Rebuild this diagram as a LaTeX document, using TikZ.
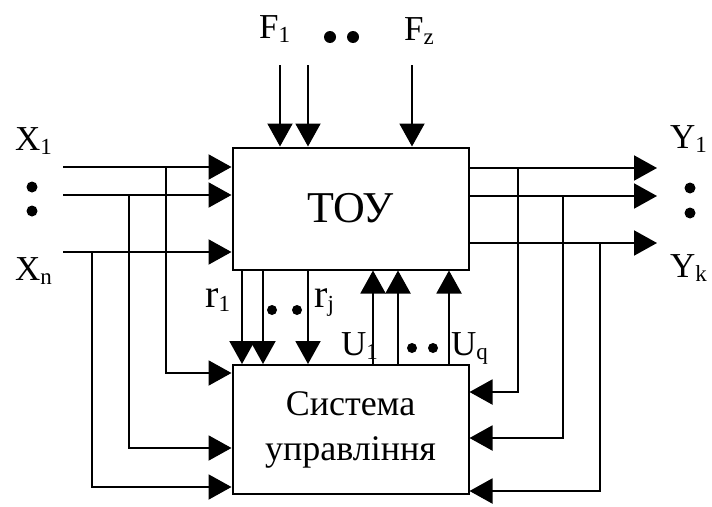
\documentclass[tikz,border=0pt]{standalone}
\usepackage{fontspec}
\setmainfont{Liberation Serif}
\usetikzlibrary{arrows.meta,positioning,calc}

\newcommand{\lowidx}[1]{\raisebox{-4pt}{\fontsize{23}{23}\selectfont #1}}

\begin{document}
\begin{tikzpicture}[
  x=1pt, y=-1pt,
  block/.style={rectangle, draw, line width=2pt, inner sep=0pt},
  sig/.style={line width=2pt, -{Triangle[length=23pt,width=25pt]}},
  lbl/.style={anchor=base west, inner sep=0pt, font=\fontsize{35}{35}\selectfont},
  blob/.style={circle, fill, inner sep=0pt, minimum size=#1},
  blob/.default=11pt
]
  \useasboundingbox (0,0) rectangle (712,506);

  % blocks
  \node[block, minimum width=236pt, minimum height=122pt,
        font=\fontsize{44}{44}\selectfont] (tou) at (350.5,208.5) {ТОУ};
  \node[block, minimum width=236pt, minimum height=129pt, align=center,
        font=\fontsize{36}{45}\selectfont] (ctrl) at (350.5,429.5) {Система\\управління};

  % inputs X
  \coordinate (x1) at (63,167);
  \coordinate (x2) at (63,195);
  \coordinate (xn) at (63,252);
  \draw[sig] (x1) -- (x1 -| tou.west);
  \draw[sig] (x2) -- (x2 -| tou.west);
  \draw[sig] (xn) -- (xn -| tou.west);
  \draw[sig] (x1 -| 166,0) |- (ctrl.west |- 0,373);
  \draw[sig] (x2 -| 129,0) |- (ctrl.west |- 0,448);
  \draw[sig] (xn -| 92,0) |- (ctrl.west |- 0,487);

  % outputs Y
  \coordinate (y1) at (657,168);
  \coordinate (y2) at (657,196);
  \coordinate (yk) at (657,243);
  \draw[sig] (tou.east |- y1) -- (y1);
  \draw[sig] (tou.east |- y2) -- (y2);
  \draw[sig] (tou.east |- yk) -- (yk);
  \draw[sig] (y1 -| 518,0) |- (ctrl.east |- 0,392);
  \draw[sig] (y2 -| 563,0) |- (ctrl.east |- 0,438);
  \draw[sig] (yk -| 600,0) |- (ctrl.east |- 0,491);

  % disturbances F
  \coordinate (f1) at (280,65);
  \coordinate (f2) at (308,65);
  \coordinate (fz) at (412,65);
  \draw[sig] (f1) -- (f1 |- tou.north);
  \draw[sig] (f2) -- (f2 |- tou.north);
  \draw[sig] (fz) -- (fz |- tou.north);

  % measurements r and controls U
  \draw[sig] (tou.south -| 242,0) -- (ctrl.north -| 242,0);
  \draw[sig] (tou.south -| 263,0) -- (ctrl.north -| 263,0);
  \draw[sig] (tou.south -| 308,0) -- (ctrl.north -| 308,0);
  \draw[sig] (ctrl.north -| 373,0) -- (tou.south -| 373,0);
  \draw[sig] (ctrl.north -| 398,0) -- (tou.south -| 398,0);
  \draw[sig] (ctrl.north -| 449,0) -- (tou.south -| 449,0);

  % labels
  \node[lbl] (lx1) at (15,150) {X\lowidx{1}};
  \node[lbl] (lxn) at (15,280) {X\lowidx{n}};
  \node[lbl] (ly1) at (670,148) {Y\lowidx{1}};
  \node[lbl] (lyk) at (670,277) {Y\lowidx{k}};
  \node[lbl] (lf1) at (259,38) {F\lowidx{1}};
  \node[lbl] (lfz) at (404,40) {F\lowidx{z}};
  \node[lbl, font=\fontsize{40}{40}\selectfont] (lr1) at (205,307) {r\lowidx{1}};
  \node[lbl, font=\fontsize{40}{40}\selectfont] (lrj) at (314,307) {r\lowidx{j}};
  \node[lbl] (lu1) at (341,355) {U\lowidx{1}};
  \node[lbl] (luq) at (451,355) {U\lowidx{q}};

  % dots
  \node[blob] (dx1) at (32,187) {};
  \node[blob] (dx2) at (32,211) {};
  \node[blob] (dy1) at (690,188) {};
  \node[blob] (dy2) at (690,213) {};
  \node[blob=12pt] (df1) at (330,37) {};
  \node[blob=12pt] (df2) at (353,37) {};
  \node[blob=10pt] (dr1) at (272,310) {};
  \node[blob=10pt] (dr2) at (297,310) {};
  \node[blob=10pt] (du1) at (412,348) {};
  \node[blob=10pt] (du2) at (433,348) {};
\end{tikzpicture}
\end{document}
